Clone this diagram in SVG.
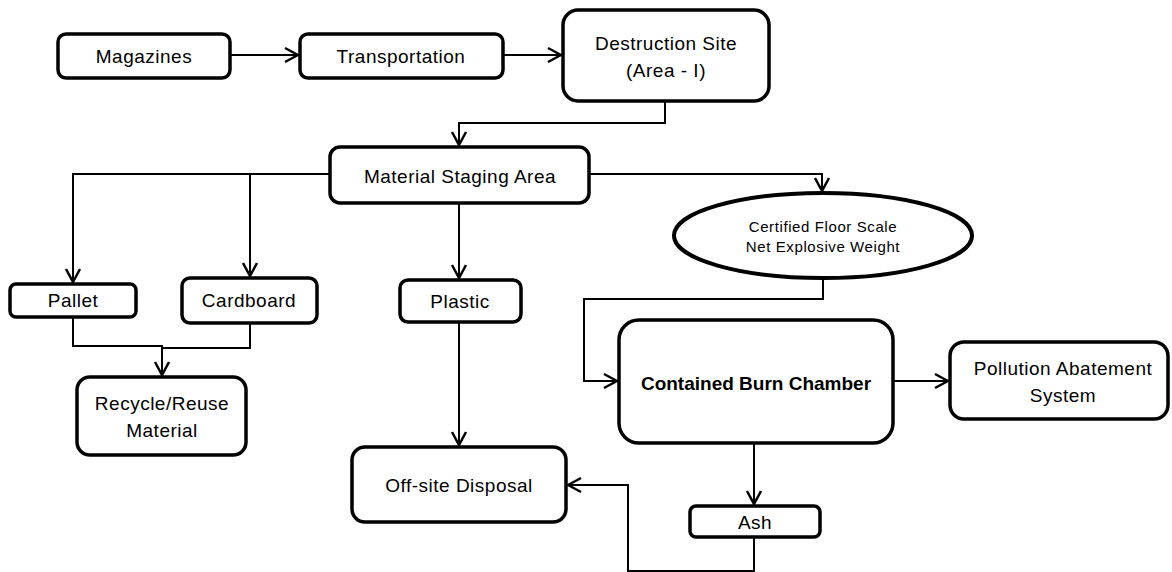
<svg xmlns="http://www.w3.org/2000/svg" width="1172" height="572" viewBox="0 0 1172 572">
<style>
.box{fill:#fff;stroke:#000;stroke-width:3.5}
.t{font-family:"Liberation Sans",Arial,sans-serif;font-size:19px;letter-spacing:0.5px;text-anchor:middle;fill:#000}
.s{font-family:"Liberation Sans",Arial,sans-serif;font-size:15px;letter-spacing:0.6px;text-anchor:middle;fill:#000}
.b{font-family:"Liberation Sans",Arial,sans-serif;font-size:19px;font-weight:bold;text-anchor:middle;fill:#000}
.c{fill:none;stroke:#000;stroke-width:2;marker-end:url(#ah)}
.n{fill:none;stroke:#000;stroke-width:2}
</style>
<defs>
<marker id="ah" markerUnits="userSpaceOnUse" viewBox="-16 -10 18 20" markerWidth="18" markerHeight="20" refX="0" refY="0" orient="auto">
<path d="M-13,-7 L0,0 L-13,7" fill="none" stroke="#000" stroke-width="2.5"/>
</marker>
</defs>
<rect width="1172" height="572" fill="#fff"/>
<g id="connectors">
<path class="c" d="M230,55 H298"/>
<path class="c" d="M503,55 H561"/>
<path class="c" d="M665,101 V123 H459 V145"/>
<path class="c" d="M330,174 H73 V282"/>
<path class="c" d="M250,174 V276"/>
<path class="c" d="M459,203 V278"/>
<path class="c" d="M589,174 H822 V191"/>
<path class="c" d="M823,278 V299 H584 V381 H617"/>
<path class="c" d="M73,317 V346 H162 V375"/>
<path class="n" d="M250,323 V348 H162"/>
<path class="c" d="M459,322 V445"/>
<path class="c" d="M893,381 H948"/>
<path class="c" d="M754,443 V504"/>
<path class="c" d="M754,537 V571 H628 V485 H568"/>
</g>
<g id="magazines">
<rect class="box" x="58" y="34" width="172" height="44" rx="8"/>
<text class="t" x="144" y="63">Magazines</text>
</g>
<g id="transportation">
<rect class="box" x="300" y="34" width="203" height="44" rx="8"/>
<text class="t" x="401" y="63">Transportation</text>
</g>
<g id="destruction-site">
<rect class="box" x="563" y="10" width="206" height="91" rx="15"/>
<text class="t" x="666" y="50">Destruction Site</text>
<text class="t" x="666" y="77">(Area - I)</text>
</g>
<g id="material-staging">
<rect class="box" x="330" y="147" width="259" height="56" rx="10"/>
<text class="t" x="460" y="183">Material Staging Area</text>
</g>
<g id="floor-scale">
<ellipse class="box" cx="823" cy="235.5" rx="149" ry="42.5" style="stroke-width:4"/>
<text class="s" x="823" y="232">Certified Floor Scale</text>
<text class="s" x="823" y="252">Net Explosive Weight</text>
</g>
<g id="pallet">
<rect class="box" x="10" y="284" width="126" height="33" rx="6"/>
<text class="t" x="73" y="307">Pallet</text>
</g>
<g id="cardboard">
<rect class="box" x="182" y="278" width="135" height="45" rx="8"/>
<text class="t" x="249" y="307">Cardboard</text>
</g>
<g id="plastic">
<rect class="box" x="400" y="280" width="121" height="42" rx="8"/>
<text class="t" x="460" y="308">Plastic</text>
</g>
<g id="recycle">
<rect class="box" x="77" y="377" width="169" height="78" rx="13"/>
<text class="t" x="162" y="410">Recycle/Reuse</text>
<text class="t" x="162" y="437">Material</text>
</g>
<g id="off-site-disposal">
<rect class="box" x="352" y="447" width="214" height="75" rx="13"/>
<text class="t" x="459" y="492">Off-site Disposal</text>
</g>
<g id="burn-chamber">
<rect class="box" x="619" y="320" width="274" height="123" rx="20"/>
<text class="b" x="756" y="390">Contained Burn Chamber</text>
</g>
<g id="pollution-abatement">
<rect class="box" x="950" y="342" width="218" height="77" rx="14"/>
<text class="t" x="1063" y="375">Pollution Abatement</text>
<text class="t" x="1063" y="402">System</text>
</g>
<g id="ash">
<rect class="box" x="690" y="506" width="130" height="31" rx="6"/>
<text class="t" x="755" y="529">Ash</text>
</g>
</svg>
